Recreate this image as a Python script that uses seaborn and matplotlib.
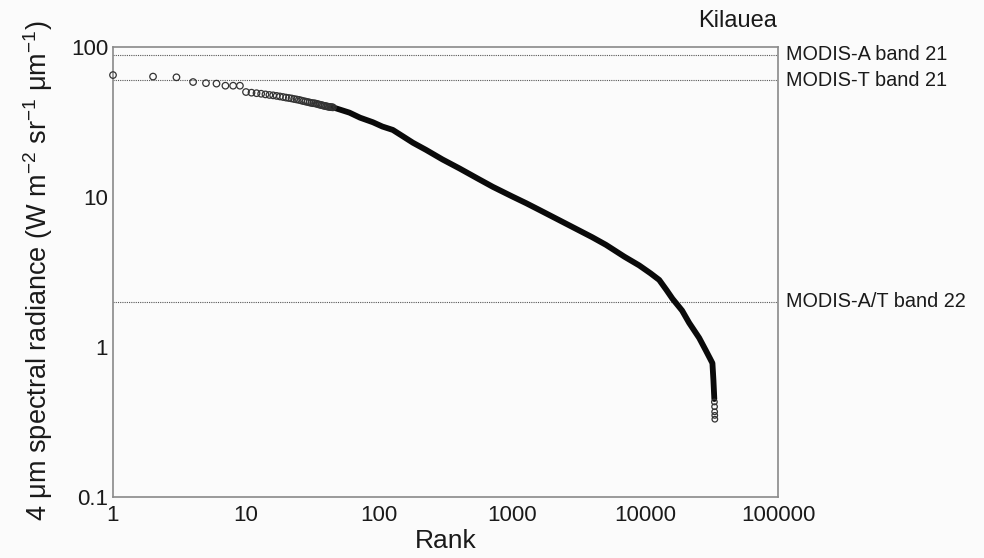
import numpy as np
import pandas as pd
import matplotlib
matplotlib.use("Agg")
import matplotlib.pyplot as plt
import seaborn as sns

# ---- data ----
# individually resolved points (open circles)
top_rank = [1, 2, 3, 4, 5, 6, 7, 8, 9, 10,
            11, 12, 13, 14, 15, 16, 17, 18, 19, 20,
            21, 22, 23, 24, 25, 26, 27, 28, 29, 30,
            31, 32, 33, 34, 35, 36, 37, 38, 39, 40,
            41, 42, 43, 44, 45]
top_val = [65.0, 63.5, 62.8, 58.4, 57.4, 57.0, 55.2, 55.2, 55.2, 50.1,
           49.6, 49.2, 48.8, 48.3, 47.9, 47.6, 47.2, 46.8, 46.4, 46.0,
           45.7, 45.4, 45.0, 44.7, 44.4, 44.0, 43.6, 43.3, 43.0, 42.7,
           42.4, 42.2, 42.1, 41.8, 41.5, 41.2, 41.0, 40.7, 40.5, 40.3,
           40.1, 39.9, 39.8, 39.7, 39.6]

# dense part of the ranked curve (read along the thick band)
dense_rank = [45, 60, 72, 90, 106, 127, 150, 180, 226, 300, 403, 550, 716,
              1000, 1276, 1606, 2270, 2857, 4000, 5082, 7000, 9040, 11000,
              12790, 14500, 16080, 19000, 21460, 25540, 28640, 31000, 32130,
              32700, 33200]
dense_val = [39.6, 36.5, 33.8, 31.5, 29.5, 28.0, 25.5, 23.0, 20.6, 17.8, 15.5,
             13.3, 11.7, 10.1, 9.1, 8.2, 7.0, 6.3, 5.4, 4.8, 4.0, 3.5, 3.1,
             2.8, 2.4, 2.1, 1.75, 1.45, 1.15, 0.95, 0.83, 0.78, 0.60, 0.45]

# sparse tail points
tail_rank = [33250, 33350, 33400, 33450, 33500]
tail_val = [0.43, 0.40, 0.37, 0.35, 0.33]

# sensor saturation levels
sat_names = ["MODIS-A band 21", "MODIS-T band 21", "MODIS-A/T band 22"]
sat_vals = [88.5, 60.0, 2.0]

x_ticks = [1, 10, 100, 1000, 10000, 100000]
x_labels = ["1", "10", "100", "1000", "10000", "100000"]
y_ticks = [0.1, 1, 10, 100]
y_labels = ["0.1", "1", "10", "100"]

# ---- styling ----
sns.set_theme(style="white")
plt.rcParams["font.family"] = ["Liberation Sans", "DejaVu Sans"]
plt.rcParams["mathtext.default"] = "regular"
bg = "#fbfbfb"
txt = "#1a1a1a"
spine_c = "#8a8a8a"

fig = plt.figure(figsize=(9.84, 5.58), dpi=100, facecolor=bg)
ax = fig.add_axes([113 / 984, 1 - 497 / 558, (778 - 113) / 984, (497 - 47) / 558])
ax.set_facecolor(bg)
ax.set_xscale("log")
ax.set_yscale("log")

top_df = pd.DataFrame({"rank": top_rank, "val": top_val})
dense_df = pd.DataFrame({"rank": dense_rank, "val": dense_val})
tail_df = pd.DataFrame({"rank": tail_rank, "val": tail_val})

sns.lineplot(data=dense_df, x="rank", y="val", ax=ax, color="#0a0a0a",
             lw=4.2, estimator=None, sort=False, solid_capstyle="round")
sns.lineplot(data=dense_df.iloc[-4:], x="rank", y="val", ax=ax, color="#0a0a0a",
             lw=3.0, estimator=None, sort=False, solid_capstyle="round")
sns.scatterplot(data=top_df, x="rank", y="val", ax=ax, marker="o", s=22,
                facecolor="none", edgecolor="#333333", linewidth=0.9, zorder=4,
                clip_on=False)
sns.scatterplot(data=tail_df, x="rank", y="val", ax=ax, marker="o", s=16,
                facecolor="none", edgecolor="#333333", linewidth=0.9, zorder=4)

for name, v in zip(sat_names, sat_vals):
    ax.axhline(v, color="#555555", lw=0.8, ls=(0, (1, 1)), zorder=1)
    ax.annotate(name, xy=(1.0, v), xycoords=("axes fraction", "data"),
                xytext=(6, 0), textcoords="offset points",
                ha="left", va="center", fontsize=14.3, color=txt)

ax.set_xlim(1, 100000)
ax.set_ylim(0.1, 100)
ax.set_xticks(x_ticks)
ax.set_xticklabels(x_labels)
ax.set_yticks(y_ticks)
ax.set_yticklabels(y_labels)
ax.tick_params(axis="both", which="major", direction="in", length=5, width=0.8,
               color=spine_c, labelsize=16, labelcolor=txt, pad=3.5)
ax.tick_params(axis="both", which="minor", direction="in", length=3, width=0.6,
               color=spine_c)
ax.tick_params(axis="x", which="major", pad=6)

for s in ax.spines.values():
    s.set_color(spine_c)
    s.set_linewidth(1.2)

ax.set_xlabel("Rank", fontsize=19, color=txt, labelpad=2)
ax.set_ylabel("")
fig.text(38 / 984, 1 - 271 / 558,
         "4 μm spectral radiance (W m$^{-2}$ sr$^{-1}$ μm$^{-1}$)",
         rotation=90, ha="center", va="center", fontsize=19.5, color=txt)

fig.text(738 / 984, 1 - 21 / 558, "Kilauea", ha="center", va="center",
         fontsize=17, color=txt)

fig.savefig("out.png", dpi=100, facecolor=bg)
